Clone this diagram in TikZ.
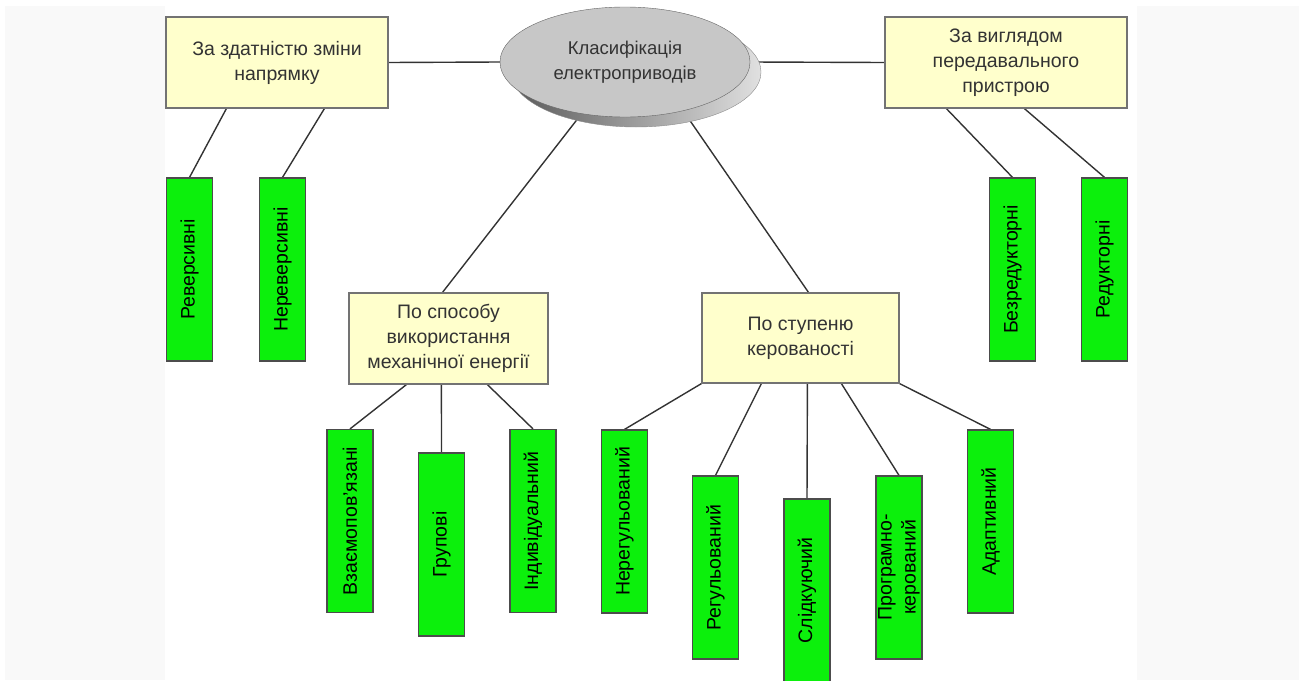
\documentclass[tikz,border=0pt]{standalone}
\usepackage{fontspec}
\setmainfont{Liberation Sans}
\usetikzlibrary{shapes.geometric,backgrounds}
\definecolor{boxyellow}{RGB}{255,255,204}
\definecolor{leafgreen}{RGB}{12,240,12}
\definecolor{sidegray}{RGB}{249,249,249}

\begin{document}
\begin{tikzpicture}[x=1pt, y=-1pt,
    group/.style={draw=black!55, fill=boxyellow, line width=1.2pt, text=black!80,
        align=center, inner sep=2pt, font=\fontsize{19.5}{25}\selectfont},
    leaf/.style={draw=black!70, fill=leafgreen, line width=1.2pt, rotate=90,
        align=center, inner sep=1pt, minimum width=183pt, minimum height=46pt,
        font=\fontsize{19.5}{24}\selectfont},
    link/.style={draw=black!80, line width=1.4pt}]
    \clip (0, 0) rectangle (1305, 680);

    % Title
    \node[ellipse, minimum width=250pt, minimum height=110pt, inner sep=0pt,
        draw=black!45, left color=black!65, right color=black!12] (klasshadow) at (636, 72) {};
    \node[ellipse, minimum width=250pt, minimum height=110pt, inner sep=0pt,
        draw=black!60, fill=black!22, text=black!80, align=center,
        font=\fontsize{18.5}{25}\selectfont] (klas) at (625, 62)
        {Класифікація\\електроприводів};

    % Groups
    \node[group, minimum width=222pt, minimum height=91pt] (zdat) at (277, 62.5)
        {За здатністю зміни\\напрямку};
    \node[group, minimum width=242pt, minimum height=91pt] (vyhl) at (1006, 62.5)
        {За виглядом\\передавального\\пристрою};
    \node[group, minimum width=199pt, minimum height=91pt] (sposib) at (448.5, 338.5)
        {По способу\\використання\\механічної енергії};
    \node[group, minimum width=197pt, minimum height=90pt] (stup) at (800.5, 338)
        {По ступеню\\керованості};

    % Leaves
    \node[leaf] (rev) at (189.5, 269.5) {Реверсивні};
    \node[leaf] (nerev) at (282.5, 269.5) {Нереверсивні};
    \node[leaf] (bezred) at (1012.5, 269.5) {Безредукторні};
    \node[leaf] (red) at (1104.5, 269.5) {Редукторні};
    \node[leaf] (vzaiem) at (350, 521) {Взаємопов'язані};
    \node[leaf] (grup) at (441.5, 544.5) {Групові};
    \node[leaf] (indyv) at (533, 521) {Індивідуальний};
    \node[leaf] (nereg) at (624.5, 521.5) {Нерегульований};
    \node[leaf] (reg) at (715.5, 567.5) {Регульований};
    \node[leaf] (slid) at (807, 590.5) {Слідкуючий};
    \node[leaf] (progr) at (899, 567.5) {Програмно-\\керований};
    \node[leaf] (adapt) at (990.5, 521.5) {Адаптивний};

    \begin{scope}[on background layer]
        \fill[sidegray] (5, 6) rectangle (165, 680);
        \fill[sidegray] (1137, 6) rectangle (1299, 680);
        \draw[link] (zdat.east) -- (klas.west);
        \draw[link] (klas.east) -- (vyhl.west);
        \draw[link] (klas.-130) -- ([xshift=-6pt]sposib.north);
        \draw[link] (klas.-40) -- ([xshift=8pt]stup.north);
        \draw[link] ([xshift=61pt]zdat.south west) -- (rev.east);
        \draw[link] ([xshift=159pt]zdat.south west) -- (nerev.east);
        \draw[link] ([xshift=62pt]vyhl.south west) -- (bezred.east);
        \draw[link] ([xshift=140pt]vyhl.south west) -- (red.east);
        \draw[link] ([xshift=58pt]sposib.south west) -- (vzaiem.east);
        \draw[link] ([xshift=93pt]sposib.south west) -- (grup.east);
        \draw[link] ([xshift=139pt]sposib.south west) -- (indyv.east);
        \draw[link] (stup.south west) -- (nereg.east);
        \draw[link] ([xshift=60pt]stup.south west) -- (reg.east);
        \draw[link] ([xshift=106pt]stup.south west) -- (slid.east);
        \draw[link] ([xshift=140pt]stup.south west) -- (progr.east);
        \draw[link] (stup.south east) -- (adapt.east);
    \end{scope}
\end{tikzpicture}
\end{document}
